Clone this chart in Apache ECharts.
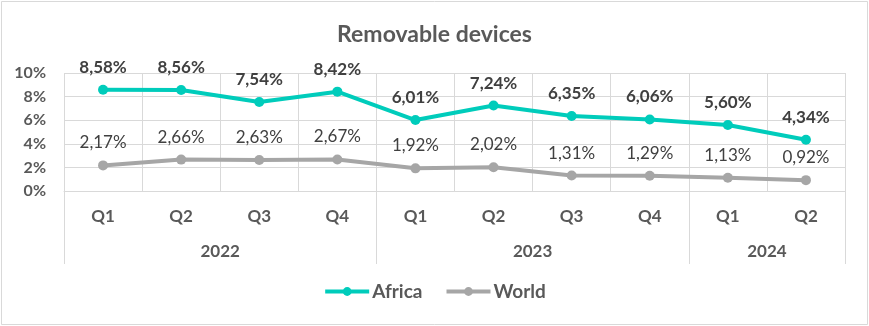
<!DOCTYPE html>
<html>
<head>
<meta charset="utf-8">
<script src="https://cdn.jsdelivr.net/npm/echarts@6/dist/echarts.min.js"></script>
<style>html,body{margin:0;padding:0;background:#fff;}#c{width:869px;height:326px;}</style>
</head>
<body>
<div id="c"></div>
<script>
const quarters = ['Q1','Q2','Q3','Q4','Q1','Q2','Q3','Q4','Q1','Q2'];
const years = ['2022','2023','2024'];
const yearCenters = [2, 6, 9];
const yearBounds = [0, 4, 8, 10];
const africa = [8.58, 8.56, 7.54, 8.42, 6.01, 7.24, 6.35, 6.06, 5.60, 4.34];
const world = [2.17, 2.66, 2.63, 2.67, 1.92, 2.02, 1.31, 1.29, 1.13, 0.92];

const FONT = 'Lato';
const fmt = v => v.toFixed(2).replace('.', ',') + '%';
const chart = echarts.init(document.getElementById('c'), null, {renderer: 'canvas'});
chart.setOption({
  animation: false,
  backgroundColor: '#fff',
  title: {
    text: 'Removable devices', left: 'center', top: 18,
    textStyle: {fontFamily: FONT, fontSize: 23, fontWeight: 'bold', color: '#595959'}
  },
  graphic: [{
    type: 'rect', shape: {x: 1.5, y: 1.5, width: 866, height: 323},
    style: {fill: 'none', stroke: '#d9d9d9', lineWidth: 1}, silent: true
  }],
  legend: {
    bottom: 20, left: 'center', itemWidth: 44, itemHeight: 11, itemGap: 22,
    lineStyle: {width: 4},
    textStyle: {fontFamily: FONT, fontSize: 19, fontWeight: 'bold', color: '#595959', padding: [0, 0, 0, -2]},
    data: ['Africa', 'World']
  },
  grid: {left: 64, right: 24, top: 73, bottom: 135, containLabel: false},
  xAxis: [{
    type: 'category', data: quarters, boundaryGap: true,
    axisLine: {show: true, lineStyle: {color: '#d9d9d9', width: 1}},
    axisTick: {show: false},
    splitLine: {show: true, lineStyle: {color: '#d9d9d9', width: 1}},
    axisLabel: {margin: 17, fontFamily: FONT, fontSize: 17, fontWeight: 'bold', color: '#595959'}
  }, {
    type: 'value', min: 0, max: 10, position: 'bottom',
    gridIndex: 0,
    axisLine: {show: false},
    splitLine: {show: false},
    axisTick: {show: true, customValues: yearBounds, length: 73, inside: false,
      lineStyle: {color: '#d9d9d9', width: 1}},
    axisLabel: {
      customValues: yearCenters, margin: 52,
      formatter: v => { const i = yearCenters.indexOf(v); return i >= 0 ? years[i] : ''; },
      fontFamily: FONT, fontSize: 17, fontWeight: 'bold', color: '#595959'
    }
  }],
  yAxis: {
    type: 'value', min: 0, max: 10, interval: 2,
    axisLine: {show: false}, axisTick: {show: false},
    splitLine: {lineStyle: {color: '#d9d9d9', width: 1}},
    axisLabel: {formatter: '{value}%', margin: 18, fontFamily: FONT, fontSize: 16, fontWeight: 'bold', color: '#595959'}
  },
  series: [{
    name: 'Africa', type: 'line', data: africa, xAxisIndex: 0,
    symbol: 'circle', symbolSize: 10,
    lineStyle: {color: '#00CCBB', width: 4},
    itemStyle: {color: '#00CCBB'},
    label: {show: true, position: 'top', distance: 9, formatter: p => fmt(p.value),
      fontFamily: FONT, fontSize: 17, fontWeight: 'bold', color: '#404040'}
  }, {
    name: 'World', type: 'line', data: world, xAxisIndex: 0,
    symbol: 'circle', symbolSize: 10,
    lineStyle: {color: '#A6A6A6', width: 4},
    itemStyle: {color: '#A6A6A6'},
    label: {show: true, position: 'top', distance: 9, formatter: p => fmt(p.value),
      fontFamily: FONT, fontSize: 17, color: '#404040'}
  }]
});
</script>
</body>
</html>
